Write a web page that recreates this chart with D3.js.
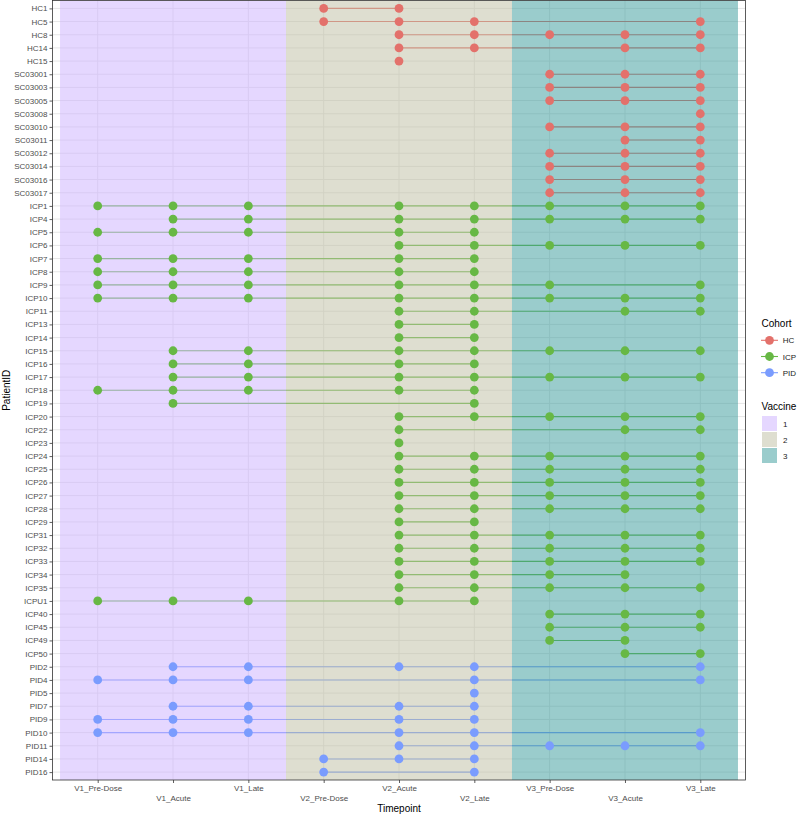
<!DOCTYPE html>
<html>
<head>
<meta charset="utf-8">
<script src="https://cdn.jsdelivr.net/npm/d3@7"></script>
<style>
body { margin: 0; background: #fff; }
text { font-family: "Liberation Sans", Arial, sans-serif; }
</style>
</head>
<body>
<svg id="chart" width="797" height="815"></svg>
<script>
// timepoints on the x axis
const timepoints = ["V1_Pre-Dose", "V1_Acute", "V1_Late", "V2_Pre-Dose", "V2_Acute",
    "V2_Late", "V3_Pre-Dose", "V3_Acute", "V3_Late"];

// vaccine blocks, first and last timepoint of each
const vaccines = ["1", "2", "3"];
const vaccineFrom = ["V1_Pre-Dose", "V2_Pre-Dose", "V3_Pre-Dose"];
const vaccineTo = ["V1_Late", "V2_Late", "V3_Late"];

const cohorts = ["HC", "ICP", "PID"];

const hcPatients = ["HC1", "HC5", "HC8", "HC14", "HC15", "SC03001", "SC03003", "SC03005",
    "SC03008", "SC03010", "SC03011", "SC03012", "SC03014", "SC03016", "SC03017"];
const icpPatients = ["ICP1", "ICP4", "ICP5", "ICP6", "ICP7", "ICP8", "ICP9", "ICP10", "ICP11",
    "ICP13", "ICP14", "ICP15", "ICP16", "ICP17", "ICP18", "ICP19", "ICP20", "ICP22", "ICP23",
    "ICP24", "ICP25", "ICP26", "ICP27", "ICP28", "ICP29", "ICP31", "ICP32", "ICP33", "ICP34",
    "ICP35", "ICPU1", "ICP40", "ICP45", "ICP49", "ICP50"];
const pidPatients = ["PID2", "PID4", "PID5", "PID7", "PID9", "PID10", "PID11", "PID14", "PID16"];

// sampled timepoints per patient (1 = V1_Pre-Dose ... 9 = V3_Late)
const hcVisits = [[4, 5], [4, 5, 6, 9], [5, 6, 7, 8, 9], [5, 6, 8, 9], [5],
    [7, 8, 9], [7, 8, 9], [7, 8, 9], [9], [7, 8, 9], [8, 9], [7, 8, 9], [7, 8, 9], [7, 8, 9], [7, 8, 9]];
const icpVisits = [[1, 2, 3, 5, 6, 7, 8, 9], [2, 3, 5, 6, 7, 8, 9], [1, 2, 3, 5, 6], [5, 6, 7, 8, 9],
    [1, 2, 3, 5, 6], [1, 2, 3, 5, 6], [1, 2, 3, 5, 6, 7, 9], [1, 2, 3, 5, 6, 7, 8, 9], [5, 6, 8, 9],
    [5, 6], [5, 6], [2, 3, 5, 6, 7, 8, 9], [2, 3, 5, 6], [2, 3, 5, 6, 7, 8, 9], [1, 2, 3, 5, 6], [2, 6],
    [5, 6, 7, 8, 9], [5, 8, 9], [5], [5, 6, 7, 8, 9], [5, 6, 7, 8, 9], [5, 6, 7, 8, 9], [5, 6, 7, 8, 9],
    [5, 6, 7, 8, 9], [5, 6], [5, 6, 7, 8, 9], [5, 6, 7, 8, 9], [5, 6, 7, 8, 9], [5, 6, 7, 8],
    [5, 6, 7, 8, 9], [1, 2, 3, 5, 6], [7, 8, 9], [7, 8, 9], [7, 8], [8, 9]];
const pidVisits = [[2, 3, 5, 6, 9], [1, 2, 3, 6, 9], [6], [2, 3, 5, 6], [1, 2, 3, 5, 6],
    [1, 2, 3, 5, 6, 9], [5, 6, 7, 8, 9], [4, 5, 6], [4, 6]];

const cohortColours = ["#E3716B", "#67B845", "#7A9CFE"];
const vaccineColours = ["#CBB0FF", "#BDBDA1", "#369999"];

// build rows
var rows = [];
[[hcPatients, hcVisits], [icpPatients, icpVisits], [pidPatients, pidVisits]].forEach(function (g, ci) {
    g[0].forEach(function (id, i) {
        rows.push({ id: id, cohort: cohorts[ci], visits: g[1][i].map(v => timepoints[v - 1]) });
    });
});

const svg = d3.select("#chart");
const panel = { left: 52.5, right: 745.5, top: 0.5, bottom: 780 };

const x = d3.scalePoint().domain(timepoints).range([panel.left, panel.right]).padding(0.6);
const y = d3.scalePoint().domain(rows.map(d => d.id)).range([panel.top, panel.bottom]).padding(0.6);
const colour = d3.scaleOrdinal().domain(cohorts).range(cohortColours);
const fill = d3.scaleOrdinal().domain(vaccines).range(vaccineColours);
const step = x.step();

svg.append("rect")
    .attr("x", panel.left).attr("y", panel.top)
    .attr("width", panel.right - panel.left).attr("height", panel.bottom - panel.top)
    .attr("fill", "#fff");

// grid
const grid = svg.append("g").attr("stroke", "#E6E6E6").attr("stroke-width", 1);
grid.selectAll("line.h").data(y.domain()).join("line")
    .attr("x1", panel.left).attr("x2", panel.right)
    .attr("y1", d => y(d)).attr("y2", d => y(d));
grid.selectAll("line.v").data(timepoints).join("line")
    .attr("y1", panel.top).attr("y2", panel.bottom)
    .attr("x1", d => x(d)).attr("x2", d => x(d));

// patient lines
svg.append("g").selectAll("line").data(rows.filter(d => d.visits.length > 1)).join("line")
    .attr("x1", d => x(d.visits[0]))
    .attr("x2", d => x(d.visits[d.visits.length - 1]))
    .attr("y1", d => y(d.id)).attr("y2", d => y(d.id))
    .attr("stroke", d => colour(d.cohort))
    .attr("stroke-width", 1.1);

// vaccine blocks
svg.append("g").selectAll("rect").data(vaccines).join("rect")
    .attr("x", (d, i) => x(vaccineFrom[i]) - step / 2)
    .attr("width", (d, i) => x(vaccineTo[i]) - x(vaccineFrom[i]) + step)
    .attr("y", panel.top).attr("height", panel.bottom - panel.top)
    .attr("fill", d => fill(d))
    .attr("fill-opacity", 0.5);

// points
var pts = [];
rows.forEach(function (r) {
    r.visits.forEach(v => pts.push({ id: r.id, cohort: r.cohort, tp: v }));
});
svg.append("g").selectAll("circle").data(pts).join("circle")
    .attr("cx", d => x(d.tp)).attr("cy", d => y(d.id))
    .attr("r", 4.4)
    .attr("fill", d => colour(d.cohort));

// border
svg.append("rect")
    .attr("x", panel.left).attr("y", panel.top)
    .attr("width", panel.right - panel.left).attr("height", panel.bottom - panel.top)
    .attr("fill", "none").attr("stroke", "#333").attr("stroke-width", 0.8);

// axes
const yAxis = svg.append("g")
    .attr("transform", "translate(" + panel.left + ",0)")
    .call(d3.axisLeft(y).tickSize(3).tickPadding(2));
const xAxis = svg.append("g")
    .attr("transform", "translate(0," + panel.bottom + ")")
    .call(d3.axisBottom(x).tickSize(3).tickPadding(2));
[yAxis, xAxis].forEach(function (a) {
    a.select(".domain").remove();
    a.selectAll(".tick line").attr("stroke", "#333").attr("stroke-width", 0.8);
    a.selectAll(".tick text").attr("fill", "#4D4D4D")
        .style("font-size", "8px").style("font-family", '"Liberation Sans", Arial, sans-serif');
});
// dodge every second label
xAxis.selectAll(".tick text")
    .attr("dy", null)
    .attr("y", (d, i) => i % 2 === 0 ? 10.5 : 20.5);

svg.append("text")
    .attr("x", (panel.left + panel.right) / 2).attr("y", 812)
    .attr("text-anchor", "middle").style("font-size", "10px")
    .text("Timepoint");
svg.append("text")
    .attr("transform", "translate(9.5," + (panel.top + panel.bottom) / 2 + ") rotate(-90)")
    .attr("text-anchor", "middle").style("font-size", "10px")
    .text("PatientID");

// legends
const lg = svg.append("g");
lg.append("text").attr("x", 761.5).attr("y", 326.5).style("font-size", "10px").text("Cohort");
cohorts.forEach(function (c, i) {
    var cy = 340.3 + i * 16.2;
    lg.append("line").attr("x1", 761).attr("x2", 778).attr("y1", cy).attr("y2", cy)
        .attr("stroke", colour(c)).attr("stroke-width", 1.1);
    lg.append("circle").attr("cx", 769.5).attr("cy", cy).attr("r", 4.4).attr("fill", colour(c));
    lg.append("text").attr("x", 782.7).attr("y", cy + 3).style("font-size", "8px")
        .attr("fill", "#222").text(c);
});
lg.append("text").attr("x", 761.5).attr("y", 409.5).style("font-size", "10px").text("Vaccine");
vaccines.forEach(function (v, i) {
    var top = 416 + i * 16;
    lg.append("rect").attr("x", 762).attr("y", top).attr("width", 15).attr("height", 15)
        .attr("fill", fill(v)).attr("fill-opacity", 0.5);
    lg.append("text").attr("x", 783).attr("y", top + 10.5).style("font-size", "8px")
        .attr("fill", "#222").text(v);
});
</script>
</body>
</html>
